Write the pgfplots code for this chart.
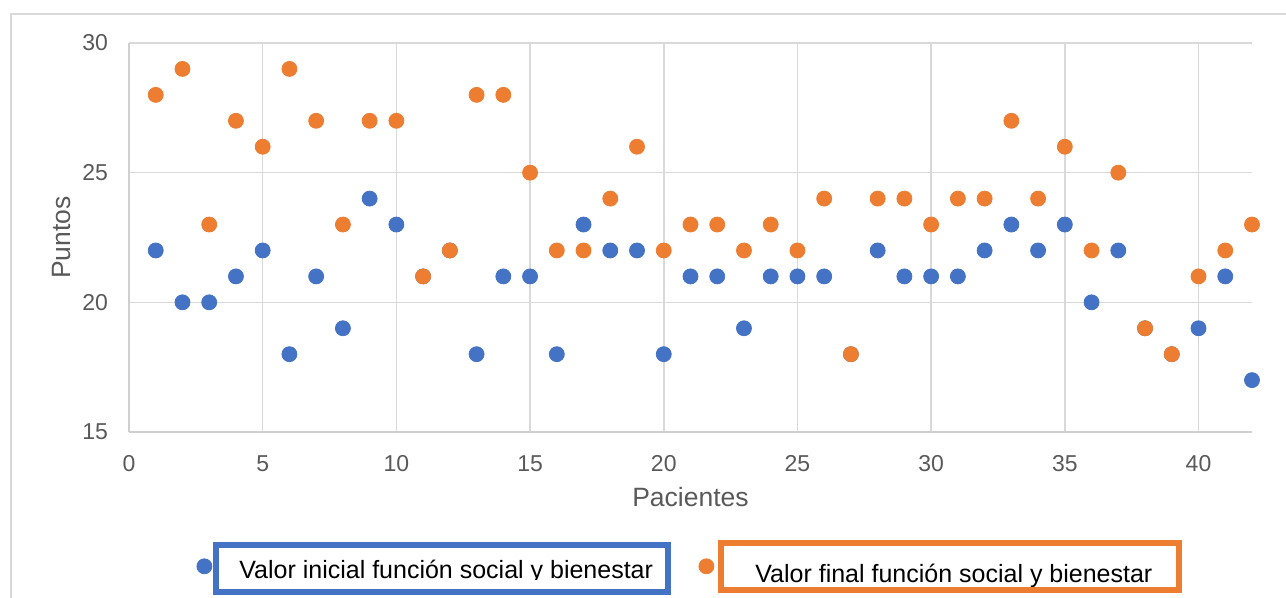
\documentclass[border=0pt]{standalone}
\usepackage{fontspec}
\setmainfont{Liberation Sans}
\usepackage{pgfplots}
\pgfplotsset{compat=1.18}
\definecolor{cblue}{HTML}{4472C4}
\definecolor{corange}{HTML}{ED7D31}
\definecolor{cgrid}{HTML}{D9D9D9}
\definecolor{caxis}{HTML}{CFCFCF}
\definecolor{ctext}{HTML}{595959}
\pgfplotsset{
  blueimg/.style={legend image code/.code={\path[draw=none, fill=none] (-7.5pt,-10pt) rectangle (17.5pt,15pt);
    \draw[only marks, color=cblue, mark=*, mark size=3.75pt, mark options={draw=cblue, fill=cblue}] plot coordinates {(0pt,6.15pt)};}},
  orangeimg/.style={legend image code/.code={\path[draw=none, fill=none] (-18.5pt,-10pt) rectangle (24.5pt,15pt);
    \draw[only marks, color=corange, mark=*, mark size=3.75pt, mark options={draw=corange, fill=corange}] plot coordinates {(0pt,6.15pt)};}},
}
\begin{document}
\begin{tikzpicture}
\path[use as bounding box] (-64.5pt,-83pt) rectangle (578.5pt,216pt);
\draw[cgrid, line width=1pt] (-59pt,-83pt) -- (-59pt,208.85pt) -- (578.5pt,208.85pt);
\begin{axis}[
 at={(0pt,0pt)}, anchor=south west,
 scale only axis, width=561.5pt, height=194.5pt,
 xmin=0, xmax=42, ymin=15, ymax=30,
 xtick={0,5,...,40}, ytick={15,20,25,30},
 axis x line=bottom, axis y line=left,
 axis line style={-, draw=caxis, line width=0.75pt},
 grid=major, grid style={draw=cgrid, line width=0.75pt},
 major tick length=0pt,
 tick label style={font=\fontsize{11.5}{13}\selectfont, text=ctext},
 /pgf/number format/assume math mode=true,
 yticklabel style={anchor=east, inner sep=0pt, xshift=-10.35pt},
 xticklabel style={anchor=north, inner sep=0pt, yshift=-11.5pt},
 xlabel={Pacientes}, ylabel={Puntos},
 label style={font=\fontsize{13.25}{15}\selectfont, text=ctext},
 xlabel style={at={(axis description cs:0.5,-0.1928)}, anchor=base},
 ylabel style={at={(axis description cs:-0.0519,0.5)}, anchor=base},
 legend columns=2,
 legend style={draw=none, fill=none, inner sep=0pt,
   at={(axis description cs:0.05343,-0.42931)}, anchor=south west,
   column sep=0pt, row sep=0pt,
   font=\fontsize{12.5}{15}\selectfont, text=black,
   nodes={inner sep=0pt, anchor=base west, text depth=0pt},
   cells={anchor=base west}},
]
\addplot[only marks, color=cblue, mark=*, mark size=3.75pt, mark options={draw=cblue, fill=cblue}, blueimg]
coordinates {
(1,22)(2,20)(3,20)(4,21)(5,22)(6,18)(7,21)(8,19)(9,24)(10,23)
(11,21)(12,22)(13,18)(14,21)(15,21)(16,18)(17,23)(18,22)(19,22)(20,18)
(21,21)(22,21)(23,19)(24,21)(25,21)(26,21)(27,18)(28,22)(29,21)(30,21)
(31,21)(32,22)(33,23)(34,22)(35,23)(36,20)(37,22)(38,19)(39,18)(40,19)
(41,21)(42,17)
};
\addlegendentry{\makebox[215pt][l]{Valor inicial función social y bienestar}}
\addplot[only marks, color=corange, mark=*, mark size=3.75pt, mark options={draw=corange, fill=corange}, orangeimg]
coordinates {
(1,28)(2,29)(3,23)(4,27)(5,26)(6,29)(7,27)(8,23)(9,27)(10,27)
(11,21)(12,22)(13,28)(14,28)(15,25)(16,22)(17,22)(18,24)(19,26)(20,22)
(21,23)(22,23)(23,22)(24,23)(25,22)(26,24)(27,18)(28,24)(29,24)(30,23)
(31,24)(32,24)(33,27)(34,24)(35,26)(36,22)(37,25)(38,19)(39,18)(40,21)
(41,22)(42,23)
};
\addlegendentry{\raisebox{-2.15pt}{Valor final función social y bienestar}}
\end{axis}
\fill[white] (45pt,-74pt) rectangle (268pt,-79pt);
\draw[cblue, line width=3pt] (43.4pt,-56.35pt) rectangle (269.4pt,-80.15pt);
\draw[corange, line width=3pt] (295.9pt,-55.3pt) rectangle (524.9pt,-78.85pt);
\end{tikzpicture}
\end{document}
